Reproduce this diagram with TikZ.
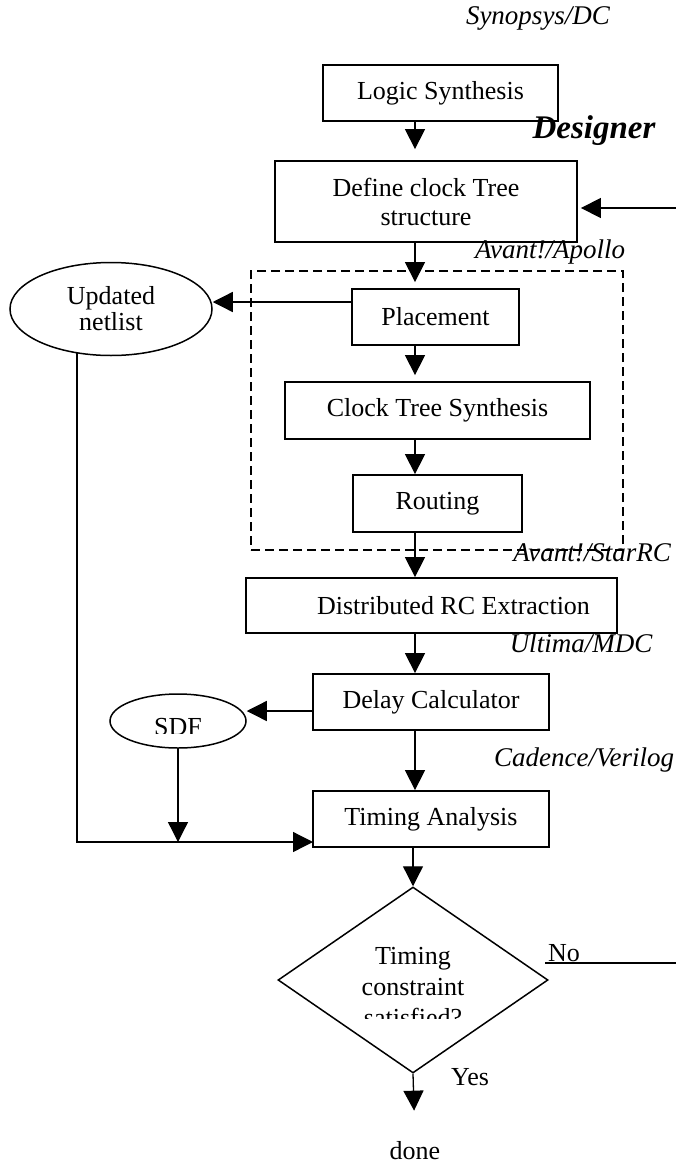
\documentclass[tikz,border=0pt]{standalone}
\usepackage{fontspec}
\setmainfont{Liberation Serif}
\usetikzlibrary{arrows.meta,shapes.geometric,backgrounds}
\begin{document}
\begin{tikzpicture}[x=1pt,y=-1pt,
  box/.style={draw,line width=1.8pt,inner sep=0pt,fill=white,font=\fontsize{26}{29}\selectfont},
  oval/.style={draw,ellipse,line width=1.5pt,inner sep=0pt,fill=white,font=\fontsize{26}{26}\selectfont},
  grpbox/.style={draw,line width=1.6pt,dash pattern=on 9pt off 5pt,inner sep=0pt},
  arr/.style={line width=1.3pt,-{Triangle[width=20pt,length=20pt]}},
  ln/.style={line width=1.3pt},
  tool/.style={font=\fontsize{27}{30}\selectfont\itshape,inner sep=0pt},
  lbl/.style={font=\fontsize{26}{31}\selectfont,inner sep=0pt}]
\useasboundingbox (0,0) rectangle (676,1167);
% group frame
\node[grpbox,minimum width=372pt,minimum height=279pt] (grp) at (437,410.5) {};
% boxes
\node[box,minimum width=235pt,minimum height=56pt] (ls) at (440.5,93) {Logic Synthesis};
\node[box,minimum width=302pt,minimum height=81pt,align=center] (dct) at (426,201.5) {Define clock Tree\\structure};
\node[box,minimum width=167pt,minimum height=56pt] (pl) at (435.5,317) {Placement};
\node[box,minimum width=305pt,minimum height=57pt] (cts) at (437.5,410.5) {Clock Tree Synthesis};
\node[box,minimum width=169pt,minimum height=57pt] (rt) at (437.5,503.5) {Routing};
\node[box,minimum width=371pt,minimum height=55pt] (drc) at (431.5,605.5) {\hspace*{44pt}Distributed RC Extraction};
\node[box,minimum width=236pt,minimum height=56pt] (dc) at (431,702) {Delay Calculator};
\node[box,minimum width=236pt,minimum height=56pt] (ta) at (431,819) {Timing Analysis};
% ellipses
\node[oval,minimum width=202pt,minimum height=93pt,align=center] (un) at (111,309) {Updated\\netlist};
\node[oval,minimum width=136pt,minimum height=54pt] (sdf) at (178,721) {};
\begin{scope}
  \clip (0,0) rectangle (676,733);
  \node[lbl] (sdft) at (178,727) {SDF};
\end{scope}
% decision
\node[draw,diamond,line width=1.5pt,inner sep=0pt,minimum width=270pt,minimum height=186pt] (dm) at (413,980) {};
\begin{scope}
  \clip (0,0) rectangle (676,1018);
  \node[lbl,align=center] (dmt) at (413,987) {Timing\\constraint\\satisfied?};
\end{scope}
% labels
\node[tool] (t1) at (538,18) {Synopsys/DC};
\node[inner sep=0pt,font=\fontsize{33}{36}\selectfont\bfseries\itshape] (des) at (594,131) {Designer};
\node[tool] (t2) at (550,252) {Avant!/Apollo};
\node[tool] (t3) at (592,553) {Avant!/StarRC};
\node[tool] (t4) at (581,643) {Ultima/MDC};
\node[tool] (t5) at (584,760) {Cadence/Verilog};
\node[lbl] (yes) at (470,1077) {Yes};
\node[lbl] (done) at (415,1151) {done};
\node[lbl,anchor=base west] (no) at (548,961) {No};
% helper coordinates
\coordinate (ax) at (415,0);
\coordinate (lx) at (77,0);
\coordinate (py) at (0,302);
\coordinate (dy) at (0,711);
\coordinate (rin) at (676,208);
\coordinate (tain) at (313,842);
\coordinate (noL) at (545,963);
\coordinate (noR) at (676,963);
% connectors
\draw[arr,shorten >=11pt] (ls.south -| ax) -- (dct.north -| ax);
\draw[arr,shorten >=6pt] (dct.south -| ax) -- (pl.north -| ax);
\draw[arr,shorten >=6pt] (pl.south -| ax) -- (cts.north -| ax);
\draw[arr] (cts.south -| ax) -- (rt.north -| ax);
\draw[arr] (rt.south -| ax) -- (drc.north -| ax);
\draw[arr] (drc.south -| ax) -- (dc.north -| ax);
\draw[arr] (dc.south -| ax) -- (ta.north -| ax);
\draw[arr] (ta.south -| dm.north) -- (dm.north);
\draw[arr,shorten >=31pt] (dm.south) -- (done.north);
\draw[arr,shorten >=3pt] (rin) -- (dct.east |- rin);
\draw[arr] (pl.west |- py) -- (un.east |- py);
\draw[arr] (dc.west |- dy) -- (sdf.east |- dy);
\draw[arr] (sdf.south) -- (sdf.south |- tain);
\begin{pgfonlayer}{background}
\draw[arr] (un.center -| lx) |- (tain);
\end{pgfonlayer}
\draw[ln] (noL) -- (noR);
\end{tikzpicture}
\end{document}
